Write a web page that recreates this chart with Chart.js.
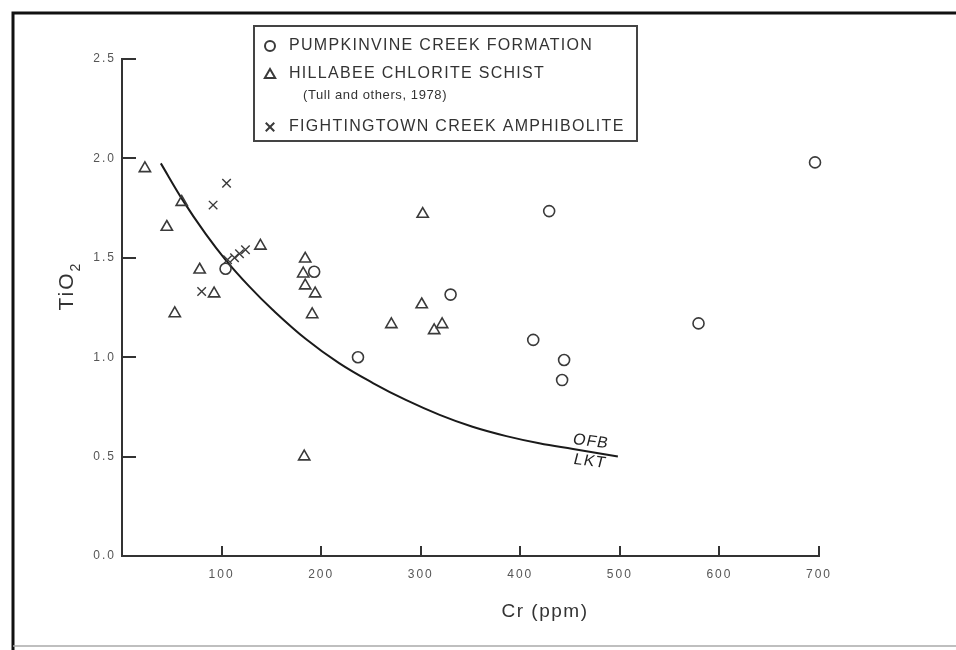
<!DOCTYPE html>
<html lang="en">
<head>
    <meta charset="UTF-8">
    <title>TiO2 vs Cr</title>
    <script src="https://cdn.jsdelivr.net/npm/chart.js"></script>
    <style>
        body { margin: 0; background: #fff; }
        #wrap { width: 956px; height: 650px; position: relative; }
    </style>
</head>
<body>
    <div id="wrap"><canvas id="plot"></canvas></div>

    <script>
        // values: Cr (ppm) and TiO2 (wt %)
        let pumpkinCr = [104, 193, 237, 330, 413, 429, 442, 444, 579, 696];
        let pumpkinTi = [1.445, 1.43, 1.00, 1.315, 1.087, 1.735, 0.885, 0.986, 1.17, 1.98];

        let hillabeeCr = [23, 45, 53, 60, 78, 92.5, 139, 182, 183, 184, 184, 191, 194, 270.5, 301, 302, 313.5, 321.5];
        let hillabeeTi = [1.95, 1.655, 1.22, 1.78, 1.44, 1.32, 1.56, 1.42, 0.50, 1.495, 1.36, 1.215, 1.32, 1.165, 1.265, 1.72, 1.135, 1.165];

        let fightCr = [80, 91.5, 105, 106, 113, 118, 124];
        let fightTi = [1.33, 1.765, 1.875, 1.49, 1.50, 1.52, 1.54];

        // OFB / LKT boundary line
        let curveCr = [39, 61, 84, 104, 128, 151, 185, 218, 252, 285, 319, 352, 386, 419, 453, 498];
        let curveTi = [1.975, 1.79, 1.62, 1.49, 1.355, 1.24, 1.09, 0.97, 0.87, 0.785, 0.71, 0.65, 0.603, 0.567, 0.538, 0.50];

        let yTicks = [0.0, 0.5, 1.0, 1.5, 2.0, 2.5];
        let xTicks = [100, 200, 300, 400, 500, 600, 700];

        let legendNames = ['PUMPKINVINE CREEK FORMATION', 'HILLABEE CHLORITE SCHIST', 'FIGHTINGTOWN CREEK AMPHIBOLITE'];
        let legendNote = '(Tull and others, 1978)';

        const ink = '#3a3a3a';
        const FONT = '"Liberation Sans", Arial, Helvetica, sans-serif';

        function pts(xs, ys) {
            return xs.map((x, i) => ({ x: x, y: ys[i] }));
        }

        function txt(ctx, s, x, y, size, spacing, align) {
            ctx.save();
            ctx.font = size + 'px ' + FONT;
            ctx.letterSpacing = spacing + 'px';
            ctx.fillStyle = '#333';
            ctx.textAlign = align || 'left';
            ctx.textBaseline = 'middle';
            ctx.fillText(s, x, y);
            ctx.restore();
        }

        const decor = {
            id: 'decor',
            beforeDraw(chart) {
                let ctx = chart.ctx;
                ctx.save();
                ctx.fillStyle = '#fff';
                ctx.fillRect(0, 0, chart.width, chart.height);
                // outer frame of the scanned figure
                ctx.strokeStyle = '#111';
                ctx.lineWidth = 3;
                ctx.beginPath();
                ctx.moveTo(13, 650);
                ctx.lineTo(13, 13);
                ctx.lineTo(956, 13);
                ctx.stroke();
                ctx.strokeStyle = '#aaa';
                ctx.lineWidth = 1.5;
                ctx.beginPath();
                ctx.moveTo(13, 646);
                ctx.lineTo(956, 646);
                ctx.stroke();
                ctx.restore();
                ctx.letterSpacing = '2px';
            },
            beforeDatasetsDraw(chart) {
                chart.ctx.letterSpacing = '0px';
            },
            afterDraw(chart) {
                let ctx = chart.ctx;
                let xs = chart.scales.x, ys = chart.scales.y;
                ctx.save();
                ctx.letterSpacing = '0px';
                ctx.strokeStyle = '#333';
                ctx.lineWidth = 2;
                // inward tick marks
                yTicks.forEach(v => {
                    if (v === 0) return;
                    let py = Math.round(ys.getPixelForValue(v));
                    ctx.beginPath();
                    ctx.moveTo(xs.left, py);
                    ctx.lineTo(xs.left + 14, py);
                    ctx.stroke();
                });
                xTicks.forEach(v => {
                    let px = Math.round(xs.getPixelForValue(v));
                    ctx.beginPath();
                    ctx.moveTo(px, ys.bottom);
                    ctx.lineTo(px, ys.bottom - 10);
                    ctx.stroke();
                });

                // axis titles
                ctx.save();
                ctx.translate(67, 286);
                ctx.rotate(-Math.PI / 2);
                ctx.font = '21px ' + FONT;
                ctx.letterSpacing = '2px';
                ctx.fillStyle = '#333';
                ctx.textBaseline = 'middle';
                let w1 = ctx.measureText('TiO').width;
                let w2 = 10;
                ctx.fillText('TiO', -(w1 + w2) / 2, 0);
                ctx.font = '14px ' + FONT;
                ctx.fillText('2', -(w1 + w2) / 2 + w1, 9);
                ctx.restore();
                txt(ctx, 'Cr (ppm)', 545, 612, 19, 1.5, 'center');

                // boundary labels
                [['OFB', 471, 0.575], ['LKT', 470, 0.475]].forEach(l => {
                    ctx.save();
                    ctx.translate(xs.getPixelForValue(l[1]), ys.getPixelForValue(l[2]));
                    ctx.rotate(0.13);
                    ctx.transform(1, 0, -0.12, 1, 0, 0);
                    ctx.font = '16px ' + FONT;
                    ctx.letterSpacing = '1px';
                    ctx.fillStyle = '#222';
                    ctx.textAlign = 'center';
                    ctx.textBaseline = 'middle';
                    ctx.fillText(l[0], 0, 0);
                    ctx.restore();
                });

                // legend box
                ctx.strokeStyle = '#444';
                ctx.lineWidth = 2;
                ctx.strokeRect(254, 26, 383, 115);
                let sets = chart.data.datasets;
                let rows = [46, 74, 127];
                rows.forEach((ry, i) => {
                    let ds = sets[i];
                    ctx.save();
                    ctx.strokeStyle = ds.borderColor;
                    ctx.fillStyle = 'rgba(0,0,0,0)';
                    Chart.helpers.drawPoint(ctx, {
                        pointStyle: ds.pointStyle,
                        radius: ds.pointStyle === 'circle' ? 5 : 6,
                        rotation: 0,
                        borderWidth: 1.5
                    }, 270, ry + (ds.pointStyle === 'triangle' ? 1 : 0));
                    ctx.restore();
                    txt(ctx, legendNames[i], 289, ry, 16, 1.3);
                });
                txt(ctx, legendNote, 303, 95, 13, 0.6);
                ctx.restore();
            }
        };

        let chart = new Chart(document.getElementById('plot').getContext('2d'), {
            type: 'scatter',
            data: {
                datasets: [
                    { label: legendNames[0], data: pts(pumpkinCr, pumpkinTi), pointStyle: 'circle', clip: false,
                      pointRadius: 5.5, borderColor: ink, backgroundColor: 'rgba(0,0,0,0)', borderWidth: 1.6 },
                    { label: legendNames[1], data: pts(hillabeeCr, hillabeeTi), pointStyle: 'triangle', clip: false,
                      pointRadius: 6.5, borderColor: ink, backgroundColor: 'rgba(0,0,0,0)', borderWidth: 1.6 },
                    { label: legendNames[2], data: pts(fightCr, fightTi), pointStyle: 'crossRot', clip: false,
                      pointRadius: 6, borderColor: ink, backgroundColor: 'rgba(0,0,0,0)', borderWidth: 1.4 },
                    { label: 'OFB/LKT', type: 'line', data: pts(curveCr, curveTi), showLine: true,
                      borderColor: '#1a1a1a', borderWidth: 2, pointRadius: 0, fill: false, tension: 0.4 }
                ]
            },
            options: {
                responsive: true,
                maintainAspectRatio: false,
                animation: false,
                events: [],
                layout: { padding: { left: 0, top: 59, right: 137, bottom: 0 } },
                plugins: { legend: { display: false }, tooltip: { enabled: false } },
                scales: {
                    x: {
                        type: 'linear', min: 0, max: 700,
                        afterFit: s => { s.height = 94; },
                        afterBuildTicks: s => { s.ticks = xTicks.map(v => ({ value: v })); },
                        grid: { display: false },
                        border: { display: true, color: '#333', width: 2 },
                        ticks: { padding: 3, color: '#555', font: { family: FONT, size: 12 } }
                    },
                    y: {
                        type: 'linear', min: 0, max: 2.5,
                        afterFit: s => { s.width = 122; },
                        afterBuildTicks: s => { s.ticks = yTicks.map(v => ({ value: v })); },
                        grid: { display: false },
                        border: { display: true, color: '#333', width: 2 },
                        ticks: { padding: -2, color: '#555', font: { family: FONT, size: 12 },
                                 callback: v => v.toFixed(1) }
                    }
                }
            },
            plugins: [decor]
        });
    </script>
</body>
</html>
